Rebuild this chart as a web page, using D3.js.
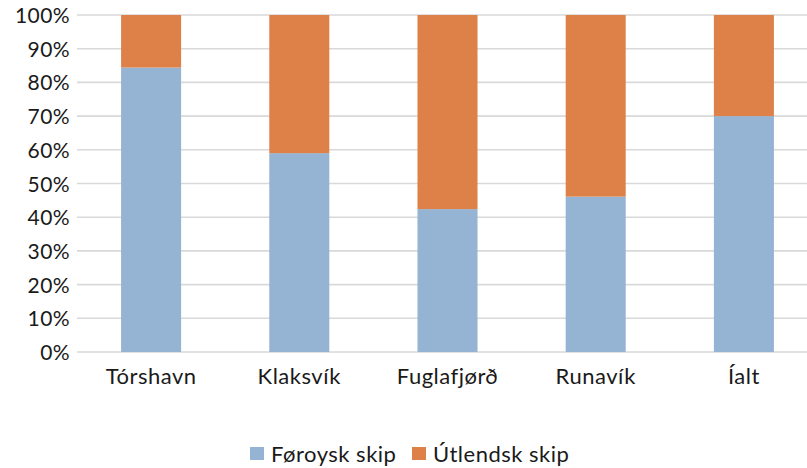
<!DOCTYPE html>
<html><head><meta charset="utf-8">
<script src="https://cdn.jsdelivr.net/npm/d3@7/dist/d3.min.js"></script>
<style>body{margin:0;background:#fff}svg{display:block}text{font-family:Lato,"Open Sans",sans-serif;fill:#1a1a1a}</style>
</head><body><svg id="c" width="807" height="468"></svg>
<script>
const categories = ["Tórshavn","Klaksvík","Fuglafjørð","Runavík","Íalt"];
const seriesNames = ["Føroysk skip","Útlendsk skip"];
const foroysk = [84.4, 59.0, 42.4, 46.1, 70.0];
const utlendsk = [15.6, 41.0, 57.6, 53.9, 30.0];
const colors = ["#95b3d3","#de8148"];
const yTicks = [0,10,20,30,40,50,60,70,80,90,100];

(function(){
const svg = d3.select("#c");
const pl = 77, pr = 818, pt = 15, pb = 352;
const x = d3.scaleBand().domain(categories).range([pl, pr]).paddingInner(0.595).paddingOuter(0.2975);
const y = d3.scaleLinear().domain([0,100]).range([pb, pt]);

svg.append("g").selectAll("line").data(yTicks).join("line")
  .attr("x1", pl).attr("x2", 807).attr("y1", d=>y(d)).attr("y2", d=>y(d))
  .attr("stroke", "#d9d9d9").attr("stroke-width", 1.6);

const yAxis = d3.axisLeft(y).tickValues(yTicks).tickFormat(d=>d+"%").tickSize(0).tickPadding(7);
const gy = svg.append("g").attr("transform", `translate(${pl},0)`).call(yAxis);
gy.select(".domain").remove();
gy.selectAll("text").style("font-size","21px").style("letter-spacing","0.4px").attr("dy","0.36em");

const stackData = categories.map((c,i)=>({cat:c, f:foroysk[i], u:utlendsk[i]}));
const stack = d3.stack().keys(["f","u"])(stackData);
svg.append("g").selectAll("g").data(stack).join("g").attr("fill",(d,i)=>colors[i])
  .selectAll("rect").data(d=>d).join("rect")
  .attr("x", d=>x(d.data.cat)).attr("width", x.bandwidth())
  .attr("y", d=>y(d[1])).attr("height", d=>y(d[0])-y(d[1]));

const xAxis = d3.axisBottom(x).tickSize(0).tickPadding(16);
const gx = svg.append("g").attr("transform", `translate(0,${pb})`).call(xAxis);
gx.select(".domain").remove();
gx.selectAll("text").style("font-size","22px").style("letter-spacing","0.5px");

const legend = [{name:seriesNames[0], x:250, c:colors[0]},{name:seriesNames[1], x:412, c:colors[1]}];
const lg = svg.append("g");
lg.selectAll("rect").data(legend).join("rect").attr("x",d=>d.x).attr("y",447).attr("width",14).attr("height",13).attr("fill",d=>d.c);
lg.selectAll("text").data(legend).join("text").attr("x",d=>d.x+21).attr("y",462).style("font-size","22px").style("letter-spacing","0.5px").text(d=>d.name);
})();
</script></body></html>
